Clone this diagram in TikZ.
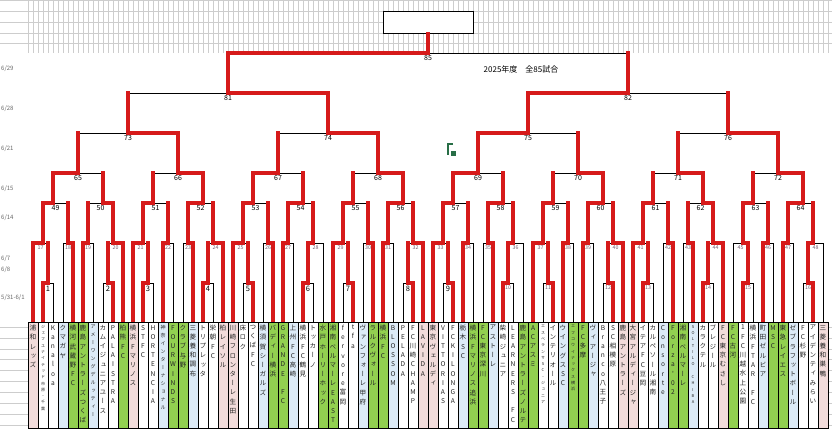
\documentclass[tikz,border=0pt]{standalone}
\usepackage{fontspec}
\setmainfont{Noto Sans CJK JP}
\newfontfamily\tatefont{Noto Sans CJK JP}[RawFeature=+vert]
\usetikzlibrary{calc}
\pgfdeclarelayer{back}
\pgfsetlayers{back,main}
\definecolor{winred}{RGB}{214,26,26}
\definecolor{gridgray}{RGB}{205,205,205}
\definecolor{numgray}{RGB}{115,95,115}
\definecolor{pk}{RGB}{242,220,219}
\definecolor{lb}{RGB}{221,235,247}
\definecolor{gr}{RGB}{146,208,80}
\colorlet{wh}{white}
\definecolor{icongreen}{RGB}{40,110,70}

% vertical (tate) team names: one character per line
\def\tateend{\tateend}
\def\tateaux#1{\ifx#1\tateend\else\hbox to 10pt{\hss#1\hss}\expandafter\tateaux\fi}
\newcommand\tate[1]{\vbox{\lineskiplimit=-\maxdimen\tateaux#1\tateend}}
\newcommand\szn{\fontsize{6.6}{9.2}\selectfont}
\newcommand\szs{\fontsize{5}{8}\selectfont}
\newcommand\szx{\fontsize{4}{6.3}\selectfont}

% one leg of a bout: w = winner, t = beaten team, m = beaten match winner
\newcommand\leg[3]{%
  \if#3w\draw[win] (#1) |- (#2);\fi
  \if#3t\begin{pgfonlayer}{back}\draw[lost] (#1) |- (#2);\end{pgfonlayer}\fi
  \if#3m\draw[win] (#1) -- (#1 |- #2);
    \begin{pgfonlayer}{back}\draw[lost] (#1 |- #2) -- (#2);\end{pgfonlayer}\fi}
% a bout: number, left, right, kind of left, kind of right
\newcommand\bout[5]{%
  \edef\wside{\csname win#1\endcsname}%
  \if l\wside\leg{#2}{m#1}{w}\leg{#3}{m#1}{#5}\else\leg{#2}{m#1}{#4}\leg{#3}{m#1}{w}\fi
  \ifnum#1<10 \def\lbst{numa}\else\ifnum#1<49 \def\lbst{numb}\else\def\lbst{numc}\fi\fi
  \node[\lbst] (l#1) at ($(#2 |- m#1)!0.5!(#3 |- m#1)$) {#1};}

\begin{document}
\begin{tikzpicture}[x=1pt,y=-1pt,
    win/.style={draw=winred,line width=3.6pt,line cap=rect,line join=miter},
    lost/.style={draw=black,line width=0.8pt},
    gridln/.style={draw=gridgray,line width=0.5pt},
    cell/.style={draw=black,line width=0.8pt,minimum width=10pt,minimum height=106pt,inner sep=0pt},
    tname/.style={anchor=north,inner sep=0pt,text=black!85},
    numa/.style={anchor=north,inner sep=0pt,yshift=-2.5pt,font=\fontsize{7.5}{8}\selectfont},
    numb/.style={anchor=north,inner sep=0pt,yshift=-2.3pt,text=numgray,font=\fontsize{5.3}{6}\selectfont},
    numc/.style={anchor=north,inner sep=0pt,yshift=-2.5pt,font=\fontsize{7}{8}\selectfont},
    date/.style={anchor=west,inner sep=0pt,text=black!60,font=\fontsize{6}{7}\selectfont}]

  \useasboundingbox (0,0) rectangle (832,430);

  % Sheet grid at the top and beside the cells
  \foreach \i in {0,...,160} \draw[gridln] ({28+5*\i},0) -- ({28+5*\i},53);
  \foreach \y in {0.5,11.5,22.5,33,43.5} \draw[gridln] (0,\y) -- (832,\y);
  \foreach \i in {0,...,9} {
    \draw[gridln] (0,{327+10.9*\i}) -- (28,{327+10.9*\i});
    \draw[gridln] (828,{327+10.9*\i}) -- (832,{327+10.9*\i});}

  % Winning side of every bout (l/r), n = not shown
  \foreach \w [count=\i] in {l,r,l,l,r,l,r,r,r,l,r,r,l,l,l,r,
      l,r,l,r,l,l,r,r,l,r,l,l,l,r,l,r,l,l,r,l,l,l,l,r,l,r,r,r,r,l,l,l,
      l,r,l,l,l,l,l,l,l,l,l,l,l,r,l,l,
      l,r,l,r,l,r,r,r,r,r,l,r,n,n,n,n,r,l,n,n,l}
    {\expandafter\xdef\csname win\i\endcsname{\w}}

  % Team tops
  \foreach \k in {1,...,80} \coordinate (t\k) at ({23+10*\k},322);

  % Champion box
  \node[draw,fill=white,line width=0.8pt,minimum width=90pt,minimum height=22pt,inner sep=0pt] (champ) at (428,22) {};

  % Blocks of ten teams, up to the 6/15 bout
  \foreach \b in {0,...,7}{
    \pgfmathtruncatemacro\X{28+100*\b}
    \pgfmathtruncatemacro\rA{2*\b+1}\pgfmathtruncatemacro\rB{2*\b+2}
    \pgfmathtruncatemacro\sA{17+4*\b}\pgfmathtruncatemacro\sB{18+4*\b}
    \pgfmathtruncatemacro\sC{19+4*\b}\pgfmathtruncatemacro\sD{20+4*\b}
    \pgfmathtruncatemacro\qA{49+2*\b}\pgfmathtruncatemacro\qB{50+2*\b}
    \pgfmathtruncatemacro\fA{65+\b}
    \foreach \j in {1,...,10} {\pgfmathtruncatemacro\kk{10*\b+\j}\expandafter\xdef\csname kt\j\endcsname{t\kk}}
    \coordinate (m\rA) at (\X+20,283); \coordinate (m\rB) at (\X+80,283);
    \coordinate (m\sA) at (\X+15,243); \coordinate (m\sB) at (\X+40,243);
    \coordinate (m\sC) at (\X+60,243); \coordinate (m\sD) at (\X+85,243);
    \coordinate (m\qA) at (\X+25,203); \coordinate (m\qB) at (\X+75,203);
    \coordinate (m\fA) at (\X+50,173);
    \bout{\rA}{\csname kt2\endcsname}{\csname kt3\endcsname}{t}{t}
    \bout{\rB}{\csname kt8\endcsname}{\csname kt9\endcsname}{t}{t}
    \bout{\sA}{\csname kt1\endcsname}{m\rA}{t}{m}
    \bout{\sB}{\csname kt4\endcsname}{\csname kt5\endcsname}{t}{t}
    \bout{\sC}{\csname kt6\endcsname}{\csname kt7\endcsname}{t}{t}
    \bout{\sD}{m\rB}{\csname kt10\endcsname}{m}{t}
    \bout{\qA}{m\sA}{m\sB}{m}{m}
    \bout{\qB}{m\sC}{m\sD}{m}{m}
    \bout{\fA}{m\qA}{m\qB}{m}{m}
  }

  % Quarter finals, semi finals and final
  \coordinate (m73) at (128,133); \coordinate (m74) at (328,133);
  \coordinate (m75) at (528,133); \coordinate (m76) at (728,133);
  \coordinate (m81) at (228,93);  \coordinate (m82) at (628,93);
  \coordinate (m85) at (428,53);
  \bout{73}{m65}{m66}{m}{m} \bout{74}{m67}{m68}{m}{m}
  \bout{75}{m69}{m70}{m}{m} \bout{76}{m71}{m72}{m}{m}
  \bout{81}{m73}{m74}{m}{m} \bout{82}{m75}{m76}{m}{m}
  \bout{85}{m81}{m82}{m}{m}
  \draw[win] (m85) -- (champ.south);

  % Team cells and names
  \foreach \k/\fc/\sz/\nm in {1/pk/n/浦和レッズ, 2/wh/x/ジェフユナイテッド市原・千葉, 3/wh/n/Kanaloa,
      4/lb/n/クマガヤ, 5/gr/n/横河武蔵野FC, 6/gr/n/鹿島アントラーズつくば, 7/lb/s/アメーワングデルッティー,
      8/wh/n/カムイジュニアユース, 9/wh/n/PALAISTRA, 10/gr/n/柏熊FC, 11/pk/n/横浜Fマリノス,
      12/wh/n/STFC, 13/wh/n/HORTENCIA, 14/lb/s/神奈インターナショナル, 15/gr/n/FOURWINDS,
      16/gr/n/クラブ与野, 17/lb/n/三菱養和調布, 18/wh/n/トリプレッタ, 19/wh/n/栄朝FC,
      20/pk/n/柏レイソル, 21/pk/n/川崎フロンターレ生田, 22/wh/n/床ロク, 23/wh/n/つくばFC,
      24/lb/n/横須賀シーガルズ, 25/gr/n/バディー横浜, 26/gr/n/GRANDE~FC, 27/lb/n/上州FC高崎,
      28/wh/n/横浜FC鶴見, 29/wh/n/トッカーノ, 30/gr/n/水戸ホーリーホック, 31/gr/n/湘南ベルマーレEAST,
      32/wh/n/fervore富岡, 33/wh/n/tfa, 34/lb/n/ヴァンフォーレ甲府, 35/gr/n/ラルクヴォール,
      36/gr/n/横浜FC, 37/lb/n/BLOSSOM, 38/wh/n/PELADA, 39/wh/n/FC川崎CHAMP, 40/pk/n/LAVIDA,
      41/pk/n/東京ヴェルディ, 42/wh/n/VITTORIAS, 43/wh/n/FCKILONGA, 44/lb/n/栃木SC,
      45/gr/n/横浜Fマリノス追浜, 46/gr/n/FC東京深川, 47/lb/n/アストーレ, 48/wh/n/柴崎ジュニア,
      49/wh/n/LEARNERS~FC, 50/gr/n/鹿島アントラーズノルテ, 51/gr/n/ACアスミ,
      52/wh/x/エスペランサSC・ジュニア, 53/wh/n/インテリオール, 54/lb/n/ウイングスSC,
      55/gr/x/エフコウイナックス横浜, 56/gr/n/FC多摩, 57/lb/n/ヴィアージャ, 58/wh/n/Branco八王子,
      59/wh/n/SC相模原, 60/pk/n/鹿島アントラーズ, 61/pk/n/大宮アルディージャ, 62/wh/n/イテアFC豆岡,
      63/wh/n/カルペソール湘南, 64/lb/n/Consorte, 65/gr/n/Forza'02, 66/gr/n/湘南ベルマーレ,
      67/lb/x/SOLTILO~CHIBA, 68/wh/n/カラクテル, 69/wh/n/ブレジール, 70/pk/n/FC東京むさし,
      71/gr/n/FC古河, 72/wh/n/1FC川越水上公園, 73/wh/n/横浜FTAR~FC, 74/lb/n/町田ゼルビア,
      75/gr/n/MSC, 76/gr/n/東急レイエス, 77/lb/n/ゼブラフットボール, 78/wh/n/FC杉野,
      79/wh/n/アイデンティみらい, 80/pk/n/三菱養和巣鴨}
  {
    \node[cell,fill=\fc] (c\k) at ({23+10*\k},375) {};
    \node[tname] (n\k) at ({23+10*\k},325) {\tatefont\csname sz\sz\endcsname\expandafter\tate\expandafter{\nm}};
  }

  % Dates of the rounds
  \node[date] (d1) at (1,69) {6/29};
  \node[date] (d2) at (1,109) {6/28};
  \node[date] (d3) at (1,149) {6/21};
  \node[date] (d4) at (1,189) {6/15};
  \node[date] (d5) at (1,218) {6/14};
  \node[date] (d6) at (1,259) {6/7};
  \node[date] (d7) at (1,270) {6/8};
  \node[date] (d8) at (1,298) {5/31-6/1};

  % Title
  \node[font=\fontsize{8}{9}\selectfont,inner sep=0pt] (ttl) at (521,69) {2025年度　全85試合};

  % Small sheet icon
  \draw[icongreen,line width=1.6pt] (453,144) -| (448,155);
  \fill[icongreen] (451,151) rectangle (456,156);
\end{tikzpicture}
\end{document}
